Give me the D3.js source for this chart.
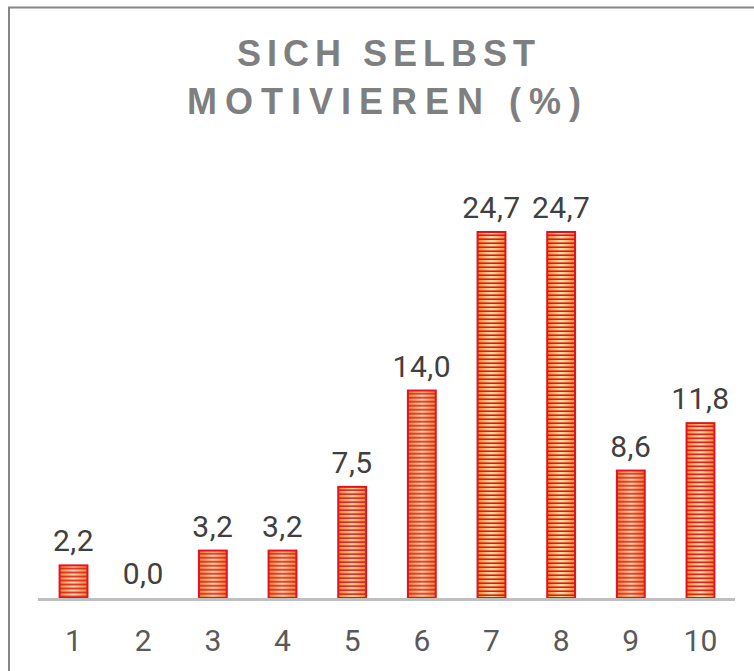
<!DOCTYPE html>
<html>
<head>
<meta charset="utf-8">
<script src="https://cdn.jsdelivr.net/npm/d3@7"></script>
<style>
  html, body { margin: 0; padding: 0; background: #fff; }
  svg { display: block; }
</style>
</head>
<body>
<svg id="chart" width="754" height="671"></svg>
<script>
var categories = ['1', '2', '3', '4', '5', '6', '7', '8', '9', '10'];
var values = [2.2, 0.0, 3.2, 3.2, 7.5, 14.0, 24.7, 24.7, 8.6, 11.8];
var titleLines = ['SICH SELBST', 'MOTIVIEREN (%)'];

var svg = d3.select('#chart');

// frame, cut off at right and bottom like the original
svg.append('rect')
    .attr('x', 9).attr('y', 7.5)
    .attr('width', 800).attr('height', 800)
    .attr('fill', 'none')
    .attr('stroke', '#858585')
    .attr('stroke-width', 2);

var defs = svg.append('defs');
var grad = defs.append('linearGradient')
    .attr('id', 'stripeGrad')
    .attr('x1', 0).attr('x2', 1).attr('y1', 0).attr('y2', 0);
grad.append('stop').attr('offset', '0%').attr('stop-color', '#f08a2c');
grad.append('stop').attr('offset', '50%').attr('stop-color', '#fde2a6');
grad.append('stop').attr('offset', '100%').attr('stop-color', '#f08a2c');

var x = d3.scaleBand()
    .domain(categories)
    .range([38.7, 735.3])
    .paddingInner(0.6)
    .paddingOuter(0.3);

var y = d3.scaleLinear()
    .domain([0, d3.max(values)])
    .range([598, 232]);

// one stripe pattern per bar, anchored to its top
values.forEach(function(d, i) {
  var p = defs.append('pattern')
      .attr('id', 'fill' + i)
      .attr('patternUnits', 'userSpaceOnUse')
      .attr('x', x(categories[i]))
      .attr('y', y(d))
      .attr('width', x.bandwidth())
      .attr('height', 4);
  p.append('rect')
      .attr('width', x.bandwidth()).attr('height', 4)
      .attr('fill', 'url(#stripeGrad)');
  p.append('rect')
      .attr('y', 2.4).attr('width', x.bandwidth()).attr('height', 1.6)
      .attr('fill', '#e3141e');
});

svg.append('g')
  .selectAll('rect')
  .data(values)
  .enter().append('rect')
    .attr('x', function(d, i) { return x(categories[i]); })
    .attr('y', function(d) { return y(d); })
    .attr('width', x.bandwidth())
    .attr('height', function(d) { return y(0) - y(d); })
    .attr('fill', function(d, i) { return 'url(#fill' + i + ')'; })
    .attr('stroke', '#e0141e')
    .attr('stroke-width', 2);

// baseline
svg.append('line')
    .attr('x1', 38).attr('x2', 735)
    .attr('y1', y(0) + 1.5).attr('y2', y(0) + 1.5)
    .attr('stroke', '#bfbfbf')
    .attr('stroke-width', 3);

// value labels
svg.append('g')
  .selectAll('text')
  .data(values)
  .enter().append('text')
    .attr('x', function(d, i) { return x(categories[i]) + x.bandwidth() / 2; })
    .attr('y', function(d) { return y(d) - 14; })
    .attr('text-anchor', 'middle')
    .style('font-family', 'Roboto, sans-serif')
    .style('font-size', '30px')
    .style('letter-spacing', '0.5px')
    .style('fill', '#404040')
    .text(function(d) { return d3.format('.1f')(d).replace('.', ','); });

// category labels
var axisG = svg.append('g')
    .attr('transform', 'translate(0,651)')
    .call(d3.axisBottom(x).tickSize(0).tickPadding(0));
axisG.select('.domain').remove();
axisG.selectAll('text')
    .attr('dy', 0)
    .style('font-family', 'Roboto, sans-serif')
    .style('font-size', '30px')
    .style('fill', '#595959');

// title, two lines
var spacing = [6, 8];
svg.append('g')
  .selectAll('text')
  .data(titleLines)
  .enter().append('text')
    .attr('x', function(d, i) { return 386 + spacing[i] / 2 - i * 2; })
    .attr('y', function(d, i) { return 66 + i * 48; })
    .attr('text-anchor', 'middle')
    .style('font-family', '"Liberation Sans", Arial, sans-serif')
    .style('font-weight', 'bold')
    .style('font-size', '36px')
    .style('letter-spacing', function(d, i) { return spacing[i] + 'px'; })
    .style('fill', '#7f7f7f')
    .text(function(d) { return d; });
</script>
</body>
</html>
